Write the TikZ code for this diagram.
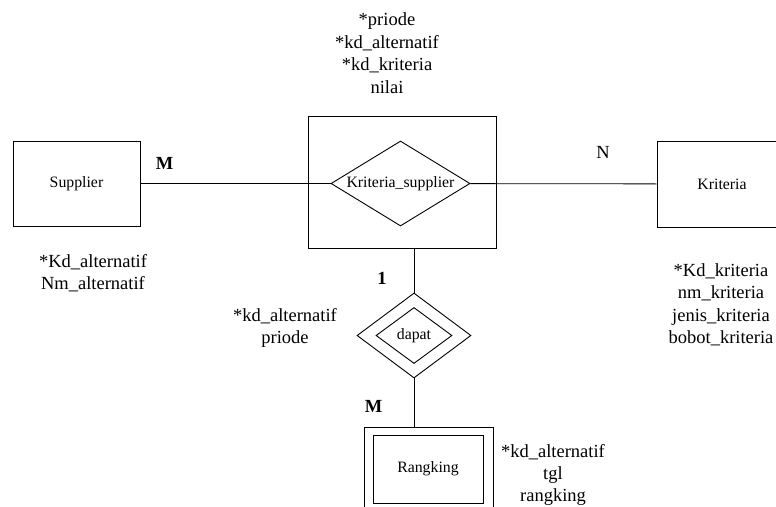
\documentclass[tikz,border=0pt]{standalone}
\usepackage{fontspec}
\setmainfont{Liberation Serif}
\usetikzlibrary{shapes.geometric}
\tikzset{
  entitas/.style={draw, line width=1pt, inner sep=0pt, font=\fontsize{15.8}{19}\selectfont},
  relasi/.style={draw, diamond, line width=0.9pt, inner sep=0pt, font=\fontsize{15.8}{19}\selectfont},
  atribut/.style={align=center, inner sep=0pt, font=\fontsize{18.5}{22.5}\selectfont},
  kardinal/.style={inner sep=0pt, font=\fontsize{18.5}{22.5}\selectfont\bfseries},
  garis/.style={line width=0.8pt},
}

\begin{document}
\begin{tikzpicture}[x=1pt, y=-1pt]
			%%%%% START %%%%%
			\useasboundingbox (0, 0) rectangle (776, 506);
			\clip (0, 0) rectangle (776, 506);
			
			% entitas
			\node[entitas, minimum width=127pt, minimum height=85pt] (supplier) at (76.5, 183.5) {Supplier};
			\node[entitas, minimum width=130pt, minimum height=86pt] (kriteria) at (722, 184) {Kriteria};
			\node[entitas, minimum width=188pt, minimum height=132pt] (agregat) at (402, 182) {};
			\node[entitas, minimum width=129pt, minimum height=84pt] (rangking) at (428.5, 469) {};
			\node[entitas, minimum width=110pt, minimum height=68pt] (rangkingdlm) at (428, 469) {Rangking};
			
			% relasi
			\node[relasi, aspect=1.64, minimum width=139pt, minimum height=85pt] (ks) at (400.5, 183.5) {Kriteria\_supplier};
			\node[relasi, minimum width=114pt, minimum height=85pt] (dapat) at (414, 335.5) {};
			\node[relasi, minimum width=76pt, minimum height=56pt] (dapatdlm) at (414, 335.5) {dapat};
			
			% garis
			\draw[garis] (supplier) -- (ks);
			\draw[garis] (ks) -- (kriteria);
			\draw[garis] (dapat.north) -- (dapat.north |- agregat.south);
			\draw[garis] (dapat.south) -- (dapat.south |- rangking.north);
			
			% kardinalitas
			\node[kardinal] (m1) at (164.5, 163) {M};
			\node[kardinal, font=\fontsize{18.5}{22.5}\selectfont] (n1) at (603, 152.5) {N};
			\node[kardinal] (satu) at (382, 278.5) {1};
			\node[kardinal] (m2) at (373.5, 406) {M};
			
			% atribut
			\node[atribut, anchor=north] (atrks) at (387, 12.5) {*priode\\*kd\_alternatif\\*kd\_kriteria\\nilai};
			\node[atribut, anchor=north] (atrsupplier) at (93, 254) {*Kd\_alternatif\\Nm\_alternatif};
			\node[atribut, anchor=north] (atrkriteria) at (721, 263) {*Kd\_kriteria\\nm\_kriteria\\jenis\_kriteria\\bobot\_kriteria};
			\node[atribut, anchor=north] (atrdapat) at (285, 308) {*kd\_alternatif\\priode};
			\node[atribut, anchor=north, font=\fontsize{18.5}{22}\selectfont] (atrrangking) at (553, 444) {*kd\_alternatif\\tgl\\rangking};
			
			%%%%% END %%%%%
\end{tikzpicture}
\end{document}
